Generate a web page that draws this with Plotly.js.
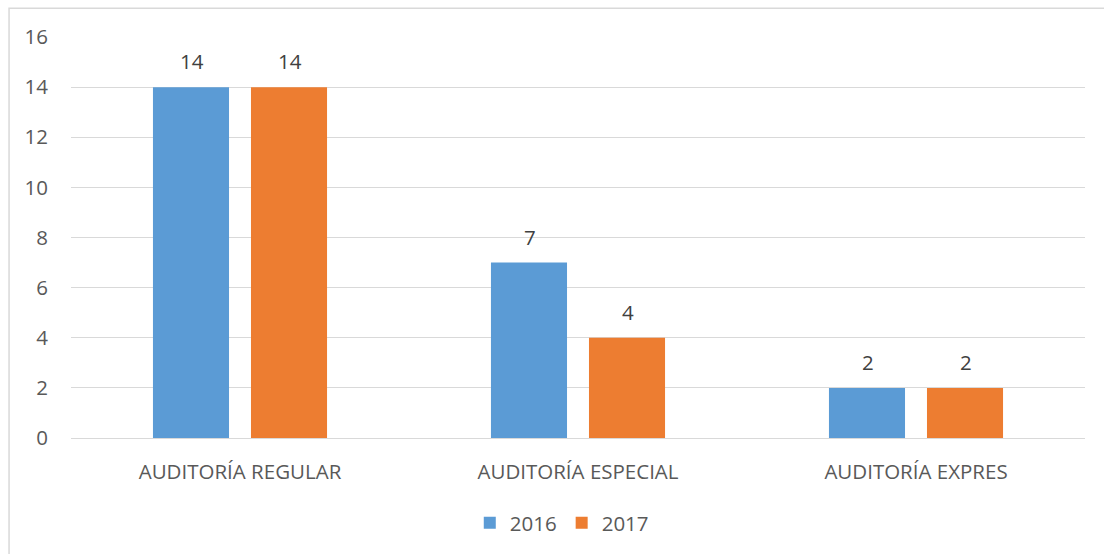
<!DOCTYPE html>
<html>
<head>
<meta charset="utf-8">
<script src="https://cdn.plot.ly/plotly-3.0.1.min.js"></script>
<style>
html,body{margin:0;padding:0;background:#fff;}
#chart{width:1104px;height:554px;}
</style>
</head>
<body>
<div id="chart"></div>
<script>
const categories = ["AUDITORÍA REGULAR", "AUDITORÍA ESPECIAL", "AUDITORÍA EXPRES"];
const seriesNames = ["2016", "2017"];
const values2016 = [14, 7, 2];
const values2017 = [14, 4, 2];
const yTicks = [0, 2, 4, 6, 8, 10, 12, 14, 16];

const colors = ["#5B9BD5", "#ED7D31"];
const textColor = "#595959";
const fontFamily = "Open Sans, Calibri, sans-serif";
const fs = 20.5;

const seriesValues = [values2016, values2017];

const traces = seriesValues.map((vals, i) => ({
  type: "bar",
  name: seriesNames[i],
  x: categories,
  y: vals,
  marker: {color: colors[i], line: {width: 0}},
  hoverinfo: "none"
}));

const annotations = [];
seriesValues.forEach((vals, i) => {
  vals.forEach((v, j) => {
    annotations.push({
      x: categories[j], y: v, xref: "x", yref: "y",
      text: String(v), showarrow: false,
      xshift: i === 0 ? -48 : 50, yshift: 26,
      yanchor: "middle", xanchor: "center",
      font: {family: fontFamily, size: fs, color: "#404040"}
    });
  });
});

const layout = {
  width: 1104, height: 554,
  margin: {l: 71, r: 19, t: 37, b: 115},
  paper_bgcolor: "#ffffff",
  plot_bgcolor: "#ffffff",
  barmode: "group",
  bargap: 0.42,
  bargroupgap: 0.224,
  font: {family: fontFamily, size: fs, color: textColor},
  xaxis: {
    type: "category",
    showgrid: false,
    showline: false,
    zeroline: false,
    ticks: "",
    ticklabelstandoff: 19,
    tickfont: {family: fontFamily, size: fs, color: textColor}
  },
  yaxis: {
    range: [0, 16],
    tickvals: yTicks,
    ticktext: yTicks.map(String),
    showgrid: true,
    gridcolor: "#D9D9D9",
    gridwidth: 1,
    zeroline: true,
    zerolinecolor: "#D9D9D9",
    zerolinewidth: 1,
    showline: false,
    ticks: "",
    ticklabelstandoff: 22,
    tickfont: {family: fontFamily, size: fs, color: textColor}
  },
  showlegend: true,
  legend: {
    orientation: "h",
    x: 0.484, xanchor: "center",
    y: -0.209, yanchor: "middle",
    font: {family: fontFamily, size: fs, color: textColor},
    itemwidth: 30,
    traceorder: "normal"
  },
  annotations: annotations,
  shapes: [{
    type: "rect", xref: "paper", yref: "paper",
    x0: -0.0611, x1: 1.1, y0: -0.4, y1: 1.072,
    line: {color: "#D9D9D9", width: 1.5},
    fillcolor: "rgba(0,0,0,0)",
    layer: "below"
  }]
};

Plotly.newPlot("chart", traces, layout, {displayModeBar: false, staticPlot: true});
</script>
</body>
</html>
